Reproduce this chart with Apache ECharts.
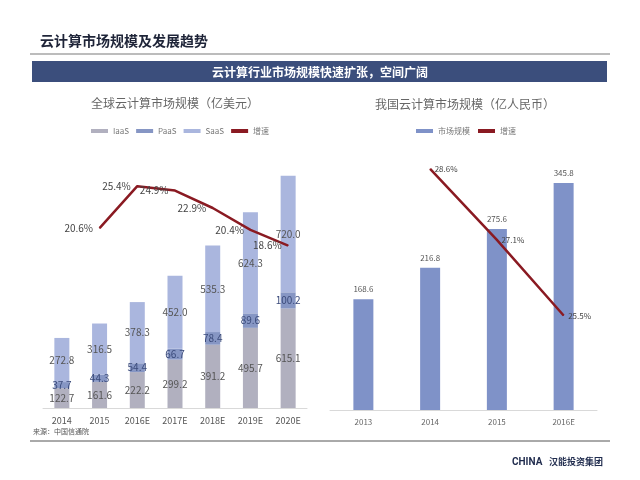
<!DOCTYPE html>
<html>
<head>
<meta charset="UTF-8">
<title></title>
<script src="https://cdn.jsdelivr.net/npm/echarts@6/dist/echarts.min.js"></script>
<style>
  html, body { margin: 0; padding: 0; background: #fff; }
</style>
</head>
<body>
<div id="main" style="width:640px;height:480px;"></div>
<script type="text/javascript">
// 全球云计算市场规模（亿美元）
var globalYears = ['2014', '2015', '2016E', '2017E', '2018E', '2019E', '2020E'];
var iaas = [122.7, 161.6, 222.2, 299.2, 391.2, 495.7, 615.1];
var paas = [37.7, 44.3, 54.4, 66.7, 78.4, 89.6, 100.2];
var saas = [272.8, 316.5, 378.3, 452.0, 535.3, 624.3, 720.0];
var globalGrowth = [null, 20.6, 25.4, 24.9, 22.9, 20.4, 18.6];

// 我国云计算市场规模（亿人民币）
var chinaYears = ['2013', '2014', '2015', '2016E'];
var chinaSize = [168.6, 216.8, 275.6, 345.8];
var chinaGrowth = [null, 28.6, 27.1, 25.5];

var font = '"Noto Sans CJK SC", "Noto Sans", sans-serif';
var lineRed = '#8a1a22';

var myChart = echarts.init(document.getElementById('main'));

function segLabel(color) {
  return {
    show: true, position: 'inside', fontSize: 10, color: color,
    fontFamily: font,
    formatter: function (p) { return p.value.toFixed(1); }
  };
}

myChart.setOption({
  animation: false,
  textStyle: { fontFamily: font },
  title: [{
    text: '全球云计算市场规模（亿美元）',
    left: 170, top: 92, textAlign: 'center',
    textStyle: { fontSize: 12, fontWeight: 'normal', color: '#666' }
  }, {
    text: '我国云计算市场规模（亿人民币）',
    left: 460, top: 93, textAlign: 'center',
    textStyle: { fontSize: 12, fontWeight: 'normal', color: '#666' }
  }],
  legend: [{
    left: 86, top: 122, itemWidth: 17, itemHeight: 4, itemGap: 7,
    textStyle: { fontSize: 8, color: '#777' },
    data: [
      { name: 'IaaS', icon: 'rect' },
      { name: 'PaaS', icon: 'rect' },
      { name: 'SaaS', icon: 'rect' },
      { name: '增速', icon: 'rect', itemStyle: { color: lineRed } }
    ]
  }, {
    left: 411, top: 122, itemWidth: 17, itemHeight: 4, itemGap: 8,
    textStyle: { fontSize: 8, color: '#777' },
    data: [
      { name: '市场规模', icon: 'rect' },
      { name: '增速 ', icon: 'rect', itemStyle: { color: lineRed } }
    ]
  }],
  grid: [
    { left: 43, right: 333, top: 146, bottom: 72 },
    { left: 330, right: 43, top: 150, bottom: 70 }
  ],
  xAxis: [{
    type: 'category', gridIndex: 0, data: globalYears,
    axisLine: { lineStyle: { color: '#d9d9d9' } },
    axisTick: { show: false },
    axisLabel: { fontSize: 9, color: '#555', margin: 8, interval: 0 }
  }, {
    type: 'category', gridIndex: 1, data: chinaYears,
    axisLine: { lineStyle: { color: '#d9d9d9', width: 1 } },
    axisTick: { show: false },
    axisLabel: { fontSize: 8, color: '#666', margin: 8 }
  }],
  yAxis: [
    { type: 'value', gridIndex: 0, min: 0, max: 1620, show: false, splitLine: { show: false } },
    { type: 'value', gridIndex: 0, min: 0, max: 30, show: false, splitLine: { show: false } },
    { type: 'value', gridIndex: 1, min: 0, max: 396, show: false, splitLine: { show: false } },
    { type: 'value', gridIndex: 1, min: 23.5, max: 29, show: false, splitLine: { show: false } }
  ],
  series: [{
    name: 'IaaS', type: 'bar', stack: 'g', xAxisIndex: 0, yAxisIndex: 0,
    barWidth: 15, data: iaas,
    itemStyle: { color: '#b1b0bf' },
    label: segLabel('#555')
  }, {
    name: 'PaaS', type: 'bar', stack: 'g', xAxisIndex: 0, yAxisIndex: 0,
    barWidth: 15, data: paas,
    itemStyle: { color: '#8696c4' },
    label: segLabel('#3a4a7a')
  }, {
    name: 'SaaS', type: 'bar', stack: 'g', xAxisIndex: 0, yAxisIndex: 0,
    barWidth: 15, data: saas,
    itemStyle: { color: '#aab6de' },
    label: segLabel('#555')
  }, {
    name: '增速', type: 'line', xAxisIndex: 0, yAxisIndex: 1,
    data: globalGrowth, symbol: 'circle', symbolSize: 1,
    itemStyle: { color: lineRed },
    lineStyle: { color: lineRed, width: 2.5 },
    label: {
      show: true, position: 'left', distance: 6, fontSize: 10, color: '#444',
      formatter: '{c}%'
    },
    z: 5
  }, {
    name: '市场规模', type: 'bar', xAxisIndex: 1, yAxisIndex: 2,
    barWidth: 20, data: chinaSize,
    itemStyle: { color: '#7f92c8' },
    label: {
      show: true, position: 'top', distance: 6, fontSize: 8, color: '#555',
      formatter: function (p) { return p.value.toFixed(1); }
    }
  }, {
    name: '增速 ', type: 'line', xAxisIndex: 1, yAxisIndex: 3,
    data: chinaGrowth, symbol: 'circle', symbolSize: 1,
    itemStyle: { color: lineRed },
    lineStyle: { color: lineRed, width: 2.5 },
    label: {
      show: true, position: 'right', distance: 4, fontSize: 8, color: '#444',
      formatter: '{c}%'
    },
    z: 5
  }],
  graphic: [{
    type: 'text', left: 40, top: 34,
    style: { text: '云计算市场规模及发展趋势', fontSize: 14, fontWeight: 'bold', fill: '#1e2438', fontFamily: font }
  }, {
    type: 'line', shape: { x1: 30, y1: 54, x2: 610, y2: 54 },
    style: { stroke: '#a6a6a6', lineWidth: 1.5 }
  }, {
    type: 'rect', shape: { x: 32, y: 61, width: 575, height: 21 },
    style: { fill: '#3b4e7c' }
  }, {
    type: 'text', x: 320, y: 72,
    style: { text: '云计算行业市场规模快速扩张，空间广阔', fontSize: 12, fontWeight: 'bold', fill: '#fff', align: 'center', verticalAlign: 'middle', fontFamily: font }
  }, {
    type: 'text', left: 33, top: 428,
    style: { text: '来源：中国信通院', fontSize: 7, fill: '#555', fontFamily: font }
  }, {
    type: 'line', shape: { x1: 30, y1: 441, x2: 610, y2: 441 },
    style: { stroke: '#555', lineWidth: 1 }
  }, {
    type: 'text', x: 512, y: 462,
    style: { text: 'CHINA', fontSize: 10, fontWeight: 'bold', fill: '#1f2b4d', verticalAlign: 'middle', fontFamily: 'Roboto, sans-serif' }
  }, {
    type: 'text', x: 549, y: 462,
    style: { text: '汉能投资集团', fontSize: 9, fontWeight: 'bold', fill: '#1f2b4d', verticalAlign: 'middle', fontFamily: font }
  }]
});
</script>
</body>
</html>
